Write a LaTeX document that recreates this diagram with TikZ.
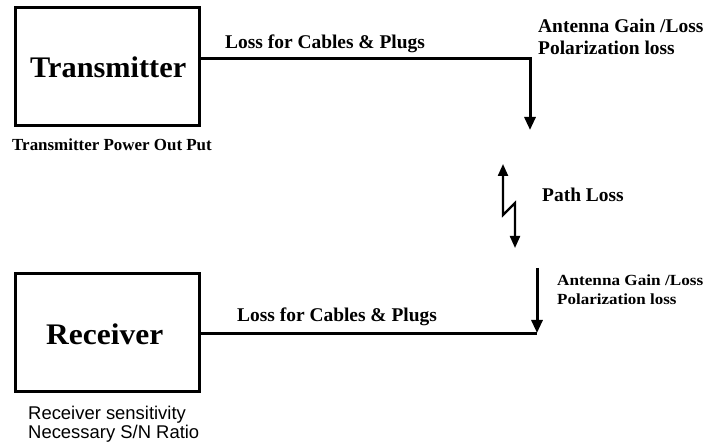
\documentclass[tikz,border=0pt]{standalone}
\usepackage{fontspec}
\usepackage{graphicx}
\setmainfont{Liberation Serif}
\newfontfamily\arialfont{Liberation Sans}
\usetikzlibrary{arrows.meta}
\newcommand{\fitto}[2]{\resizebox{#1}{\height}{#2}}

\begin{document}
\begin{tikzpicture}[x=1bp,y=-1bp,
  box/.style={draw, line width=3bp, inner sep=0, rectangle},
  wire/.style={line width=3bp},
  thinwire/.style={line width=2.2bp},
  tip/.style={-{Triangle[width=11bp,length=13bp]}},
  txt/.style={inner sep=0, anchor=base west},
  big/.style={txt, font=\bfseries\fontsize{30}{30}\selectfont},
  mid/.style={txt, font=\bfseries\fontsize{19.5}{22}\selectfont},
  small/.style={txt, font=\bfseries\fontsize{17}{20}\selectfont},
  tiny/.style={txt, font=\bfseries\fontsize{15.5}{18}\selectfont},
  sanslbl/.style={txt, font=\arialfont\fontsize{18.5}{21}\selectfont}
]
\useasboundingbox (0,0) rectangle (704,443);

% transmitter and receiver blocks
\node[box, minimum width=183bp, minimum height=118bp] (tx) at (107.5,67) {};
\node[box, minimum width=183bp, minimum height=117bp] (rx) at (107.5,332.5) {};
\node[big] (txname) at (30,78) {\fitto{156bp}{Transmitter}};
\node[big] (rxname) at (46,344) {\fitto{117bp}{Receiver}};

% antenna points and free path
\coordinate (txant) at (530,59);
\coordinate (txtip) at (530,130);
\coordinate (p1) at (503,164);
\coordinate (p2) at (503,215);
\coordinate (p3) at (515,203);
\coordinate (p4) at (515,248);
\coordinate (rxtop) at (537,268);
\coordinate (rxant) at (537,333);

% transmit side: cable run and antenna
\draw[wire, tip] (tx.east |- txant) -- (txant) -- (txtip);
% radio path
\draw[thinwire, {Triangle[width=10bp,length=12bp]}-{Triangle[width=10bp,length=12bp]}]
  (p1) -- (p2) -- (p3) -- (p4);
% receive side: antenna and cable run
\draw[wire, tip] (rxtop) -- (rxant);
\draw[wire] (rxant) -- (rx.east |- rxant);

% labels
\node[mid] (loss1) at (225,49) {Loss for Cables \& Plugs};
\node[mid] (loss2) at (237,322) {Loss for Cables \& Plugs};
\node[mid] (ant1a) at (538,33) {Antenna Gain /Loss};
\node[mid] (ant1b) at (538,55) {Polarization loss};
\node[mid] (path) at (542,202) {Path Loss};
\node[tiny] (ant2a) at (557,286) {\fitto{146bp}{Antenna Gain /Loss}};
\node[tiny] (ant2b) at (557,305) {\scalebox{1.1}[1]{Polarization loss}};
\node[small] (txpow) at (12,151) {Transmitter Power Out Put};
\node[sanslbl] (rxs1) at (28,419) {Receiver sensitivity};
\node[sanslbl] (rxs2) at (28,438) {Necessary S/N Ratio};
\end{tikzpicture}
\end{document}
